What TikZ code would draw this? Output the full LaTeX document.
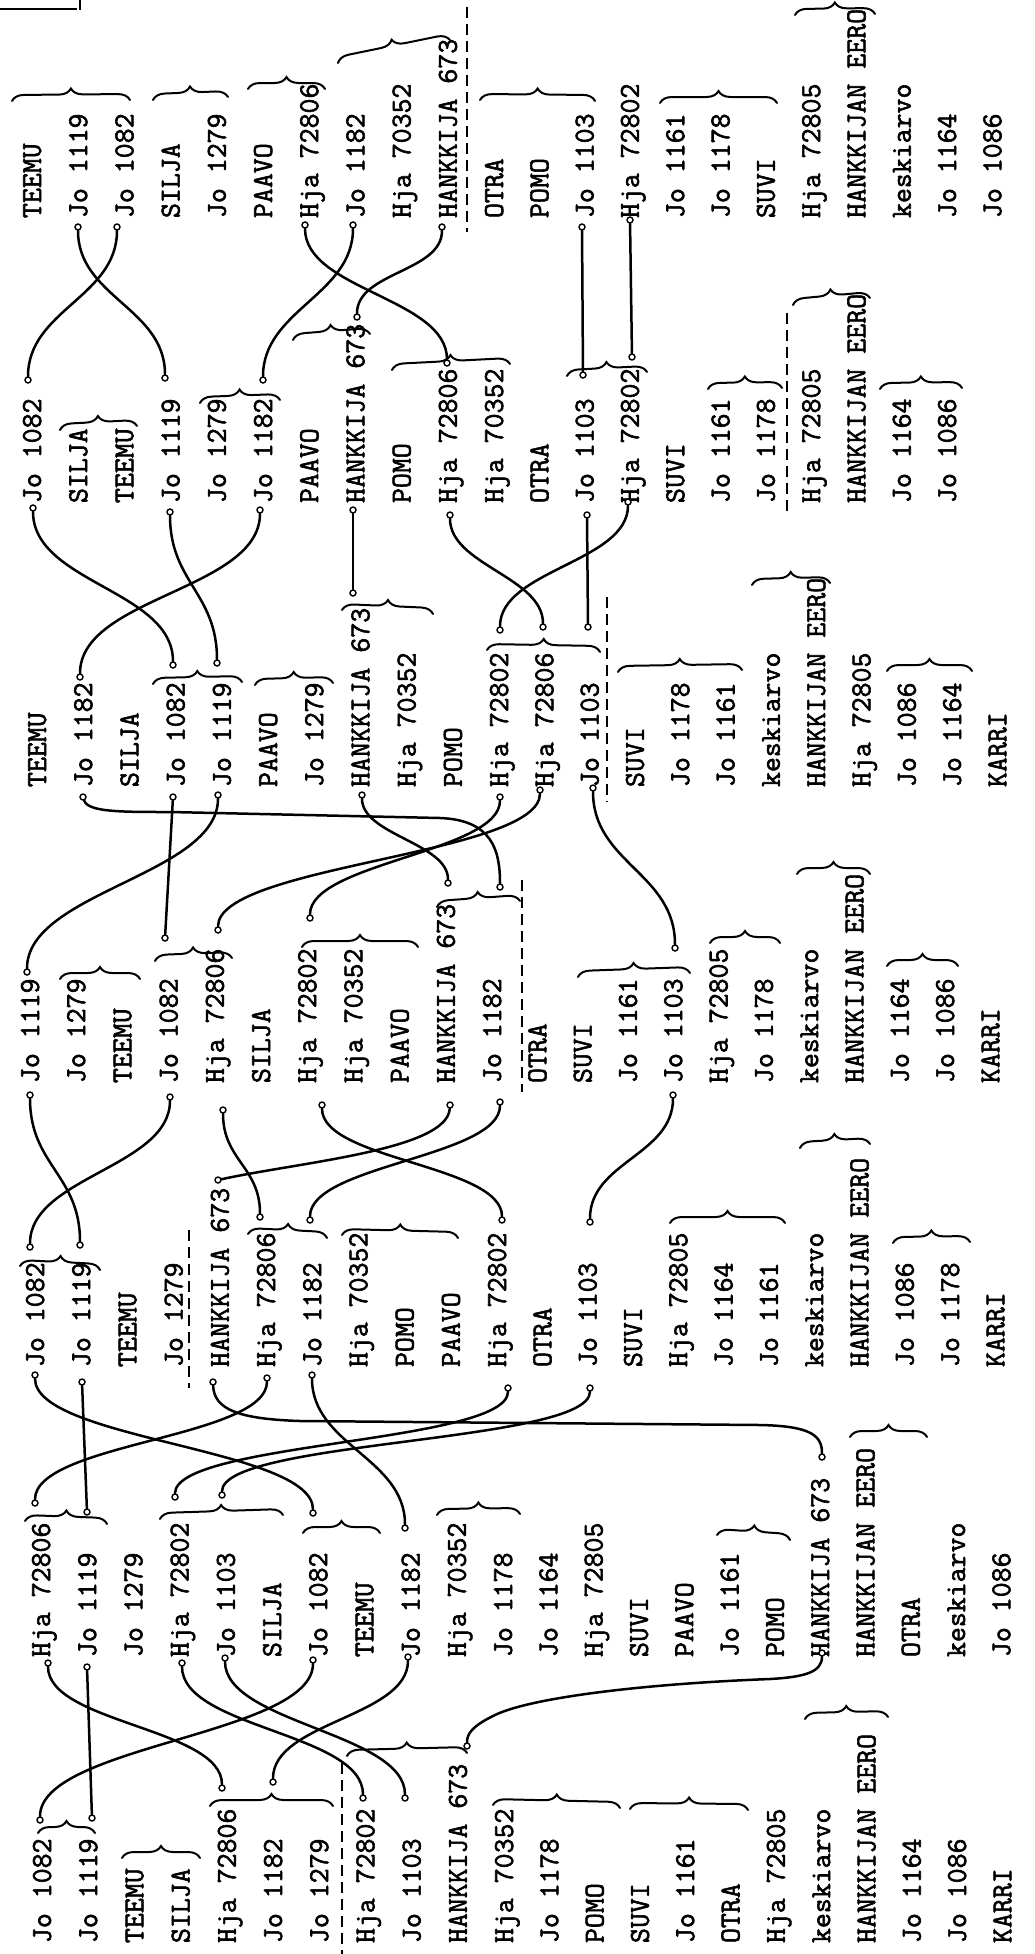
\documentclass[tikz,border=0pt]{standalone}
\usepackage{fontspec}
\setmonofont{Latin Modern Mono}[FakeBold=2]
\usetikzlibrary{decorations.pathreplacing}
\newcommand\sconn[3]{\draw[conn] (#1) .. controls +(0,#3) and +(0,-#3) .. (#2);}
\newcommand\bandlabels[4]{%
  \foreach \t [count=\i from 0] in {#4}
    \node[lbl] (#1\i) at ({#2+46.2*\i-0.9*max(\i-10,0)+9},#3) {\t};}
\begin{document}
\begin{tikzpicture}[x=1pt,y=-1pt,
  lbl/.style={font=\fontsize{29}{29}\selectfont\ttfamily, rotate=90, anchor=base west, inner sep=0pt, outer sep=0pt},
  conn/.style={line width=2.5pt, line cap=round},
  brc/.style={decorate, decoration={brace, amplitude=12pt}, line width=2pt, line cap=round},
  dsh/.style={line width=2.6pt, dash pattern=on 11pt off 6pt},
  endpt/.style={circle, draw, fill=white, line width=1.4pt, inner sep=0pt, minimum size=6pt}]
\useasboundingbox (0,0) rectangle (1035,1954);
\fill[white] (0,0) rectangle (1035,1954);

% ---------- labels ----------
\bandlabels{ba}{42}{1943}{Jo 1082, Jo 1119, TEEMU, SILJA, Hja 72806, Jo 1182, Jo 1279, Hja 72802, Jo 1103, HANKKIJA 673, Hja 70352, Jo 1178, POMO, SUVI, Jo 1161, OTRA, Hja 72805, keskiarvo, HANKKIJAN EERO, Jo 1164, Jo 1086, KARRI}
\bandlabels{bb}{41}{1657}{Hja 72806, Jo 1119, Jo 1279, Hja 72802, Jo 1103, SILJA, Jo 1082, TEEMU, Jo 1182, Hja 70352, Jo 1178, Jo 1164, Hja 72805, SUVI, PAAVO, Jo 1161, POMO, HANKKIJA 673, HANKKIJAN EERO, OTRA, keskiarvo, Jo 1086}
\bandlabels{bc}{35}{1367}{Jo 1082, Jo 1119, TEEMU, Jo 1279, HANKKIJA 673, Hja 72806, Jo 1182, Hja 70352, POMO, PAAVO, Hja 72802, OTRA, Jo 1103, SUVI, Hja 72805, Jo 1164, Jo 1161, keskiarvo, HANKKIJAN EERO, Jo 1086, Jo 1178, KARRI}
\bandlabels{bd}{30}{1083}{Jo 1119, Jo 1279, TEEMU, Jo 1082, Hja 72806, SILJA, Hja 72802, Hja 70352, PAAVO, HANKKIJA 673, Jo 1182, OTRA, SUVI, Jo 1161, Jo 1103, Hja 72805, Jo 1178, keskiarvo, HANKKIJAN EERO, Jo 1164, Jo 1086, KARRI}
\bandlabels{be}{37}{787}{TEEMU, Jo 1182, SILJA, Jo 1082, Jo 1119, PAAVO, Jo 1279, HANKKIJA 673, Hja 70352, POMO, Hja 72802, Hja 72806, Jo 1103, SUVI, Jo 1178, Jo 1161, keskiarvo, HANKKIJAN EERO, Hja 72805, Jo 1086, Jo 1164, KARRI}
\bandlabels{bf}{32}{503}{Jo 1082, SILJA, TEEMU, Jo 1119, Jo 1279, Jo 1182, PAAVO, HANKKIJA 673, POMO, Hja 72806, Hja 70352, OTRA, Jo 1103, Hja 72802, SUVI, Jo 1161, Jo 1178, Hja 72805, HANKKIJAN EERO, Jo 1164, Jo 1086}
\bandlabels{bg}{32}{218}{TEEMU, Jo 1119, Jo 1082, SILJA, Jo 1279, PAAVO, Hja 72806, Jo 1182, Hja 70352, HANKKIJA 673, OTRA, POMO, Jo 1103, Hja 72802, Jo 1161, Jo 1178, SUVI, Hja 72805, HANKKIJAN EERO, keskiarvo, Jo 1164, Jo 1086}

% ---------- braces ----------
% band 1
\draw[brc] (38,1833) -- (95,1833);
\draw[brc] (122,1858) -- (200,1858);
\draw[brc] (210,1806) -- (333,1806);
\draw[brc] (347,1756) -- (467,1753);
\draw[brc] (493,1805) -- (620,1808);
\draw[brc] (630,1809) -- (748,1810);
\draw[brc] (805,1719) -- (888,1717);
% band 2
\draw[brc] (25,1521) -- (107,1524);
\draw[brc] (160,1519) -- (283,1515);
\draw[brc] (303,1533) -- (380,1533);
\draw[brc] (437,1515) -- (520,1514);
\draw[brc] (717,1535) -- (790,1540);
\draw[brc] (850,1437) -- (927,1437);
% band 3
\draw[brc] (20,1266) -- (100,1270);
\draw[brc] (248,1234) -- (327,1238);
\draw[brc] (342,1235) -- (458,1238);
\draw[brc] (670,1223) -- (785,1223);
\draw[brc] (800,1148) -- (870,1144);
\draw[brc] (893,1243) -- (970,1242);
% band 4
\draw[brc] (60,979) -- (140,979);
\draw[brc] (155,961) -- (232,958);
\draw[brc] (302,947) -- (418,947);
\draw[brc] (437,907) -- (520,901);
\draw[brc] (578,977) -- (690,973);
\draw[brc] (710,943) -- (780,943);
\draw[brc] (797,874) -- (870,874);
\draw[brc] (887,966) -- (958,966);
% band 5
\draw[brc] (153,684) -- (242,682);
\draw[brc] (255,685) -- (333,683);
\draw[brc] (342,610) -- (433,614);
\draw[brc] (487,650) -- (600,652);
\draw[brc] (618,672) -- (742,670);
\draw[brc] (752,585) -- (830,583);
\draw[brc] (887,671) -- (972,671);
% band 6
\draw[brc] (60,430) -- (137,426);
\draw[brc] (200,403) -- (280,400);
\draw[brc] (293,340) -- (370,334);
\draw[brc] (392,370) -- (510,364);
\draw[brc] (567,376) -- (647,372);
\draw[brc] (708,389) -- (782,388);
\draw[brc] (793,305) -- (870,298);
\draw[brc] (880,389) -- (962,388);
% band 7
\draw[brc] (12,101) -- (130,100);
\draw[brc] (153,100) -- (228,97);
\draw[brc] (248,89) -- (325,89);
\draw[brc] (338,63) -- (450,40);
\draw[brc] (480,100) -- (595,101);
\draw[brc] (660,103) -- (777,103);
\draw[brc] (795,15) -- (875,14);

% ---------- dashed separators ----------
\draw[dsh] (342,1763) -- (342,1954);
\draw[dsh] (189,1230) -- (189,1388);
\draw[dsh] (522,880) -- (522,1092);
\draw[dsh] (607,597) -- (607,802);
\draw[dsh] (787,313) -- (787,515);
\draw[dsh] (467,7) -- (467,232);

% top-left fragment
\draw[line width=1.6pt] (0,9) -- (77,9);
\draw[line width=1.6pt] (80,0) -- (80,10);

% ---------- connector end points ----------
\foreach \n/\x/\y in {
 s1a/48/1663, e1a/222/1788, s1b/87/1667, e1b/92/1818, s1c/182/1663, e1c/363/1798,
 s1d/225/1658, e1d/405/1798, s1e/313/1660, e1e/40/1820, s1f/408/1657, e1f/273/1782,
 s1g/822/1653, e1g/467/1746,
 s2a/35/1375, e2a/313/1513, s2b/82/1382, e2b/87/1512, s2c/213/1382, e2c/822/1457,
 s2d/267/1378, e2d/35/1503, s2e/312/1375, e2e/405/1528, s2f/508/1388, e2f/175/1497,
 s2g/590/1388, e2g/222/1495,
 s3a/30/1095, e3a/80/1245, s3b/170/1097, e3b/30/1247, s3c/223/1110, e3c/260/1217,
 s3d/322/1105, e3d/502/1220, s3e/450/1105, e3e/218/1180, s3f/500/1102, e3f/310/1220,
 s3g/673/1095, e3g/590/1222,
 s4a/83/797, e4a/500/887, s4b/173/797, e4b/165/938, s4c/218/795, e4c/27/972,
 s4d/362/795, e4d/448/883, s4e/500/797, e4e/310/918, s4f/540/790, e4f/218/930,
 s4g/593/788, e4g/675/948,
 s5a/33/508, e5a/173/665, s5b/170/512, e5b/217/663, s5c/260/510, e5c/80/677,
 s5d/353/510, e5d/353/593, s5e/450/515, e5e/543/627, s5f/587/515, e5f/588/627,
 s5g/628/502, e5g/500/630,
 s6a/78/227, e6a/165/378, s6b/117/227, e6b/28/380, s6c/305/225, e6c/447/363,
 s6d/353/225, e6d/263/380, s6e/442/227, e6e/357/317, s6f/582/227, e6f/583/375,
 s6g/630/220, e6g/632/357}
  \node[endpt] (\n) at (\x,\y) {};

% ---------- connectors ----------
% band 2 -> band 1
\sconn{s1a}{e1a}{60}
\draw[conn] (s1b) -- (e1b);
\sconn{s1c}{e1c}{65}
\sconn{s1d}{e1d}{65}
\sconn{s1e}{e1e}{75}
\sconn{s1f}{e1f}{60}
\draw[conn] (s1g) .. controls (822,1672) and (805,1677) .. (770,1679)
  .. controls (640,1684) and (530,1698) .. (495,1715)
  .. controls (470,1727) and (467,1735) .. (e1g);
% band 3 -> band 2
\sconn{s2a}{e2a}{65}
\draw[conn] (s2b) -- (e2b);
\draw[conn] (s2c) .. controls (214,1410) and (240,1419) .. (300,1421) -- (760,1425)
  .. controls (812,1426) and (822,1436) .. (e2c);
\sconn{s2d}{e2d}{60}
\sconn{s2e}{e2e}{70}
\sconn{s2f}{e2f}{55}
\sconn{s2g}{e2g}{55}
% band 4 -> band 3
\sconn{s3a}{e3a}{70}
\sconn{s3b}{e3b}{70}
\sconn{s3c}{e3c}{50}
\sconn{s3d}{e3d}{55}
\draw[conn] (s3e) .. controls (447,1150) and (300,1162) .. (e3e);
\sconn{s3f}{e3f}{55}
\sconn{s3g}{e3g}{60}
% band 5 -> band 4
\draw[conn] (s4a) .. controls (88,812) and (120,812) .. (170,812) -- (440,818)
  .. controls (492,820) and (500,850) .. (e4a);
\draw[conn] (s4b) -- (e4b);
\sconn{s4c}{e4c}{80}
\sconn{s4d}{e4d}{40}
\sconn{s4e}{e4e}{55}
\sconn{s4f}{e4f}{65}
\sconn{s4g}{e4g}{75}
% band 6 -> band 5
\sconn{s5a}{e5a}{75}
\sconn{s5b}{e5b}{70}
\sconn{s5c}{e5c}{80}
\draw[conn] (s5d) -- (e5d);
\sconn{s5e}{e5e}{50}
\draw[conn] (s5f) -- (e5f);
\sconn{s5g}{e5g}{60}
% band 7 -> band 6
\sconn{s6a}{e6a}{70}
\sconn{s6b}{e6b}{70}
\sconn{s6c}{e6c}{65}
\sconn{s6d}{e6d}{70}
\sconn{s6e}{e6e}{45}
\draw[conn] (s6f) -- (e6f);
\draw[conn] (s6g) -- (e6g);
\end{tikzpicture}
\end{document}
